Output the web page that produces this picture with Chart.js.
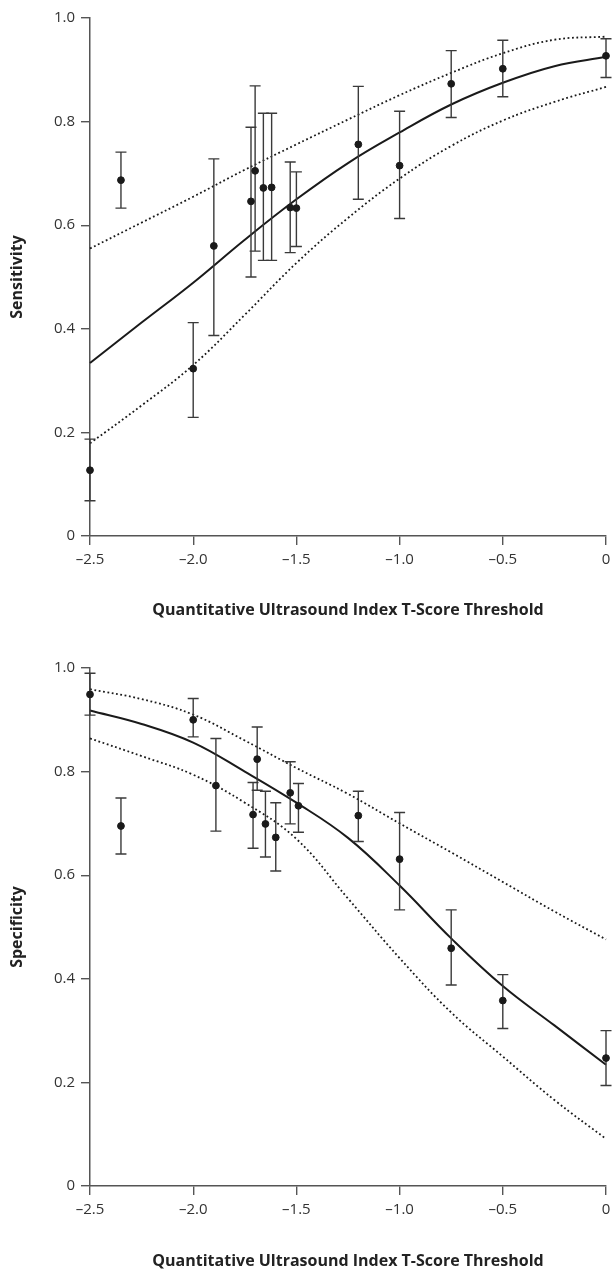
<!DOCTYPE html>
<html lang="en">
<head>
<meta charset="UTF-8">
<title>QUS T-Score Threshold: Sensitivity and Specificity</title>
<script src="https://cdn.jsdelivr.net/npm/chart.js"></script>
<style>
    body { margin: 0; background: #fff; }
    .panel { position: relative; width: 612px; }
    #top { height: 640px; }
    #bottom { height: 631px; }
</style>
</head>
<body>
<div class="panel" id="top"><canvas id="sensChart"></canvas></div>
<div class="panel" id="bottom"><canvas id="specChart"></canvas></div>

<script>
    // axis ticks
    const xTicks = [-2.5, -2.0, -1.5, -1.0, -0.5, 0];
    const xTickLabels = ['–2.5', '–2.0', '–1.5', '–1.0', '–0.5', '0'];
    const yTicks = [0, 0.2, 0.4, 0.6, 0.8, 1.0];
    const yTickLabels = ['0', '0.2', '0.4', '0.6', '0.8', '1.0'];
    const xTitle = 'Quantitative Ultrasound Index T-Score Threshold';

    // sensitivity: study estimates with 95% CI
    const sensX  = [-2.5, -2.35, -2.0, -1.9, -1.72, -1.70, -1.66, -1.62, -1.53, -1.5, -1.2, -1.0, -0.75, -0.5, 0];
    const sensY  = [0.127, 0.687, 0.323, 0.560, 0.646, 0.705, 0.672, 0.673, 0.634, 0.633, 0.756, 0.715, 0.873, 0.902, 0.927];
    const sensLo = [0.068, 0.633, 0.229, 0.387, 0.500, 0.550, 0.532, 0.532, 0.547, 0.559, 0.650, 0.613, 0.808, 0.848, 0.885];
    const sensHi = [0.187, 0.741, 0.412, 0.728, 0.789, 0.869, 0.816, 0.816, 0.722, 0.703, 0.868, 0.820, 0.937, 0.957, 0.960];

    // specificity: study estimates with 95% CI
    const specX  = [-2.5, -2.35, -2.0, -1.89, -1.71, -1.69, -1.65, -1.60, -1.53, -1.49, -1.2, -1.0, -0.75, -0.5, 0];
    const specY  = [0.949, 0.695, 0.900, 0.773, 0.717, 0.824, 0.699, 0.673, 0.759, 0.734, 0.715, 0.631, 0.459, 0.358, 0.247];
    const specLo = [0.909, 0.641, 0.867, 0.685, 0.652, 0.764, 0.635, 0.608, 0.699, 0.683, 0.665, 0.533, 0.388, 0.304, 0.194];
    const specHi = [0.990, 0.749, 0.941, 0.864, 0.779, 0.886, 0.762, 0.740, 0.819, 0.777, 0.762, 0.721, 0.533, 0.408, 0.300];

    // summary curves (fit and 95% band), read at these thresholds
    const curveX     = [-2.5, -2.25, -2.0, -1.75, -1.5, -1.25, -1.0, -0.75, -0.5, -0.25, 0];
    const sensFit    = [0.334, 0.412, 0.489, 0.572, 0.650, 0.720, 0.779, 0.833, 0.875, 0.907, 0.925];
    const sensUpper  = [0.555, 0.605, 0.655, 0.707, 0.756, 0.804, 0.851, 0.894, 0.932, 0.958, 0.964];
    const sensLower  = [0.179, 0.252, 0.330, 0.427, 0.527, 0.614, 0.690, 0.753, 0.802, 0.838, 0.867];
    const specFit    = [0.918, 0.892, 0.856, 0.800, 0.740, 0.672, 0.580, 0.478, 0.386, 0.310, 0.234];
    const specUpper  = [0.959, 0.940, 0.910, 0.860, 0.807, 0.757, 0.700, 0.644, 0.587, 0.530, 0.476];
    const specLower  = [0.864, 0.830, 0.794, 0.740, 0.670, 0.555, 0.440, 0.335, 0.250, 0.166, 0.091];

    const toPts = (xs, ys) => xs.map((x, i) => ({ x: x, y: ys[i] }));

    // draws the CI whiskers just before the points dataset
    const errorBars = {
        id: 'errorBars',
        beforeDatasetDraw(chart, args) {
            const ds = chart.data.datasets[args.index];
            if (!ds.errLo) return;
            const { ctx, scales: { x, y } } = chart;
            ctx.save();
            ctx.strokeStyle = '#3a3a3a';
            ctx.lineWidth = 1.4;
            ds.data.forEach((p, i) => {
                const px = x.getPixelForValue(p.x);
                const top = y.getPixelForValue(ds.errHi[i]);
                const bot = y.getPixelForValue(ds.errLo[i]);
                ctx.beginPath();
                ctx.moveTo(px, top); ctx.lineTo(px, bot);
                ctx.moveTo(px - 5.5, top); ctx.lineTo(px + 5.5, top);
                ctx.moveTo(px - 5.5, bot); ctx.lineTo(px + 5.5, bot);
                ctx.stroke();
            });
            ctx.restore();
        }
    };

    function curve(ys, dashed) {
        return {
            type: 'line',
            data: toPts(curveX, ys),
            borderColor: '#1a1a1a',
            borderWidth: dashed ? 1.8 : 2,
            borderDash: dashed ? [1.8, 2.6] : [],
            pointRadius: 0,
            tension: 0.4,
            clip: false
        };
    }

    function makeChart(id, xs, ys, lo, hi, fit, upper, lower, yTitle, padTop, xHeight, titlePad) {
        return new Chart(document.getElementById(id).getContext('2d'), {
            type: 'scatter',
            data: {
                datasets: [
                    {
                        data: toPts(xs, ys),
                        errLo: lo,
                        errHi: hi,
                        backgroundColor: '#1a1a1a',
                        borderColor: '#1a1a1a',
                        pointRadius: 3.4,
                        clip: false
                    },
                    curve(fit, false),
                    curve(upper, true),
                    curve(lower, true)
                ]
            },
            options: {
                responsive: true,
                maintainAspectRatio: false,
                animation: false,
                layout: { padding: { left: 0, right: 6, top: padTop, bottom: 0 } },
                plugins: { legend: { display: false }, tooltip: { enabled: false } },
                scales: {
                    x: {
                        type: 'linear',
                        min: -2.5,
                        max: 0,
                        afterBuildTicks: s => { s.ticks = xTicks.map(v => ({ value: v })); },
                        afterFit: s => { s.height = xHeight; s.paddingLeft = 0; s.paddingRight = 0; },
                        ticks: {
                            callback: (v, i) => xTickLabels[i],
                            font: { family: 'Open Sans', size: 15 },
                            color: '#333',
                            padding: 6,
                            maxRotation: 0
                        },
                        grid: { drawOnChartArea: false, drawTicks: true, tickLength: 9, color: '#555', lineWidth: 1.4 },
                        border: { display: true, color: '#555', width: 1.5 },
                        title: {
                            display: true,
                            text: xTitle,
                            font: { family: 'Open Sans', size: 16, weight: 'bold' },
                            color: '#222',
                            padding: { top: 0, bottom: titlePad }
                        }
                    },
                    y: {
                        type: 'linear',
                        min: 0,
                        max: 1,
                        afterBuildTicks: s => { s.ticks = yTicks.map(v => ({ value: v })); },
                        afterFit: s => { s.width = 90; s.paddingTop = 0; s.paddingBottom = 0; },
                        ticks: {
                            callback: (v, i) => yTickLabels[i],
                            font: { family: 'Open Sans', size: 15 },
                            color: '#333',
                            padding: 6
                        },
                        grid: { drawOnChartArea: false, drawTicks: true, tickLength: 9, color: '#555', lineWidth: 1.4 },
                        border: { display: true, color: '#555', width: 1.5 },
                        title: {
                            display: true,
                            text: yTitle,
                            font: { family: 'Open Sans', size: 16, weight: 'bold' },
                            color: '#222',
                            padding: { top: 8, bottom: 0 }
                        }
                    }
                }
            },
            plugins: [errorBars]
        });
    }

    makeChart('sensChart', sensX, sensY, sensLo, sensHi, sensFit, sensUpper, sensLower, 'Sensitivity', 18, 104, 20);
    makeChart('specChart', specX, specY, specLo, specHi, specFit, specUpper, specLower, 'Specificity', 28, 85, 0);
</script>
</body>
</html>
